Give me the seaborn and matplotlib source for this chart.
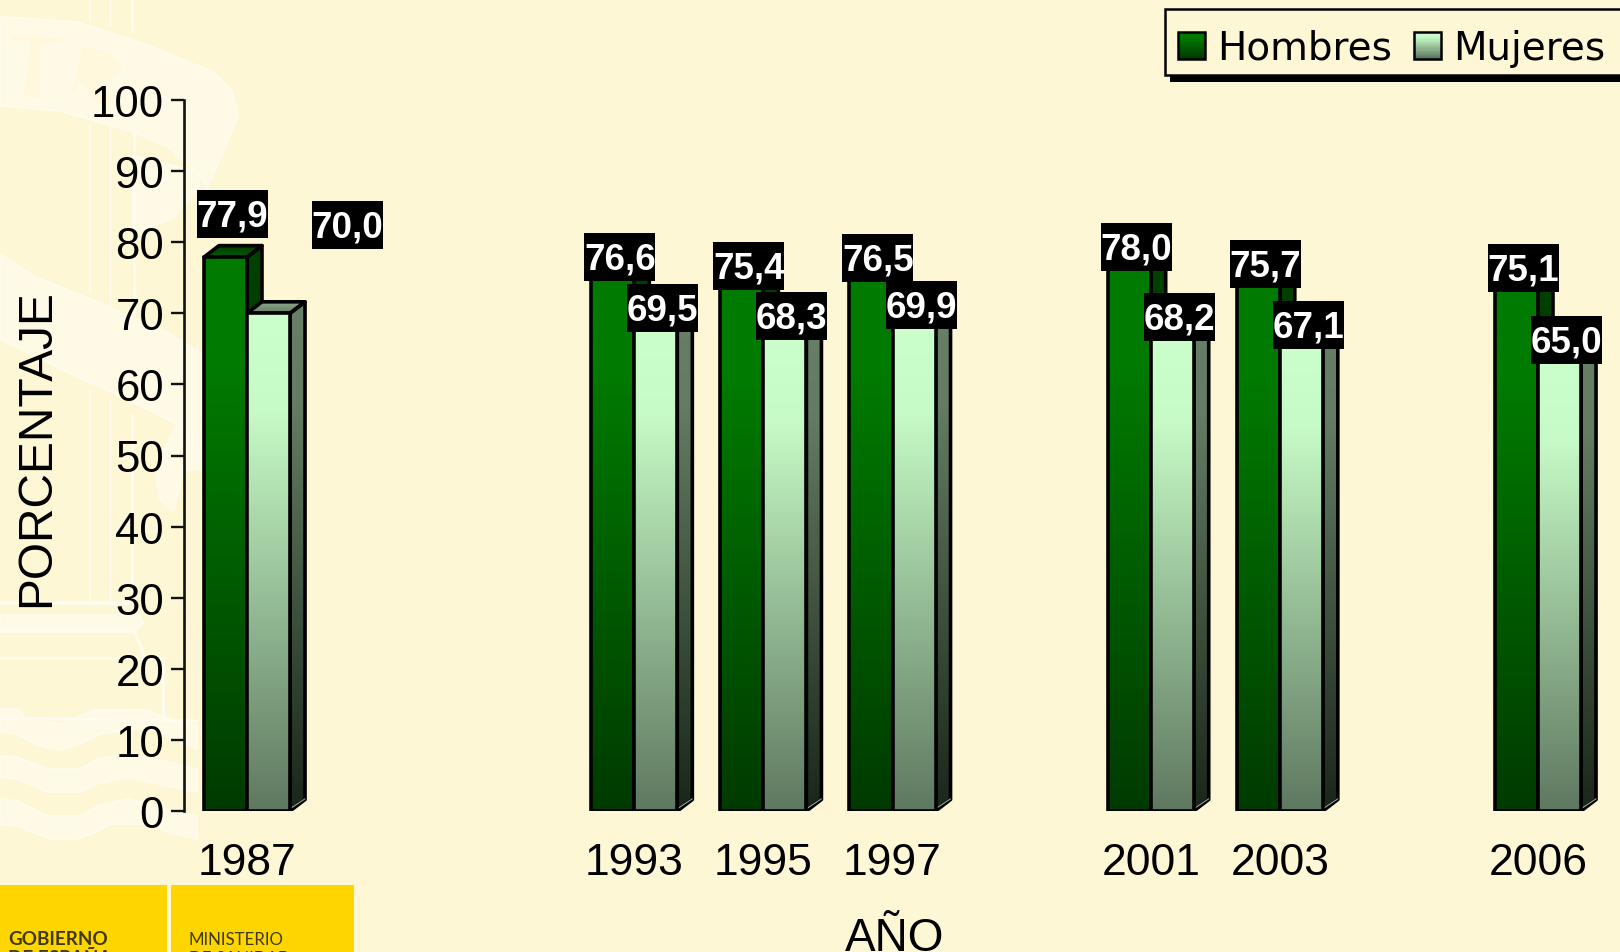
import numpy as np
import pandas as pd
import matplotlib
matplotlib.use("Agg")
import matplotlib.pyplot as plt
import seaborn as sns
from matplotlib.colors import LinearSegmentedColormap
from matplotlib.legend_handler import HandlerBase
from matplotlib.patches import Patch, Polygon, Rectangle
from matplotlib.path import Path

# ---- data ----
slots = ["1987", "1989", "1991", "1993", "1995", "1997", "1999", "2001", "2003", "2005", "2006"]
years = ["1987", "1993", "1995", "1997", "2001", "2003", "2006"]
hombres = [77.9, 76.6, 75.4, 76.5, 78.0, 75.7, 75.1]
mujeres = [70.0, 69.5, 68.3, 69.9, 68.2, 67.1, 65.0]
series_names = ["Hombres", "Mujeres"]
y_ticks = [0, 10, 20, 30, 40, 50, 60, 70, 80, 90, 100]

# ---- style ----
W, H = 1620, 953
BG = "#FEF7D6"
sns.set_theme(style="ticks", rc={"figure.facecolor": BG, "axes.facecolor": "none",
                                 "savefig.facecolor": BG})
plt.rcParams["font.family"] = ["Liberation Sans", "DejaVu Sans"]

front_cmaps = {
    "Hombres": LinearSegmentedColormap.from_list("h", [(0, "#007A00"), (0.2, "#007A00"), (1, "#003A00")]),
    "Mujeres": LinearSegmentedColormap.from_list("m", [(0, "#CBFFCB"), (0.2, "#C6FAC6"), (1, "#5F7860")]),
}
side_cmaps = {
    "Hombres": LinearSegmentedColormap.from_list("hs", ["#004200", "#001E00"]),
    "Mujeres": LinearSegmentedColormap.from_list("ms", [(0, "#667F66"), (0.2, "#637C63"), (1, "#1A261A")]),
}
top_cmaps = {
    "Hombres": LinearSegmentedColormap.from_list("ht", ["#003E00", "#005A00"]),
    "Mujeres": LinearSegmentedColormap.from_list("mt", ["#8FAB8F", "#667F66"]),
}
ramp = np.linspace(0, 1, 256).reshape(-1, 1)

fig = plt.figure(figsize=(W / 100, H / 100), dpi=100)

# ---- background decoration, in pixel coordinates ----
bg = fig.add_axes([0, 0, 1, 1], zorder=-1)
bg.set_xlim(0, W)
bg.set_ylim(H, 0)
bg.axis("off")
WM_FILL, WM_LINE = "#FFFAE6", "#FFFCEF"
shapes = [
    [(0, 18), (77, 23), (150, 47), (213, 73), (232, 92), (238, 117), (207, 190), (200, 177),
     (167, 147), (133, 133), (60, 112), (0, 107)],
    [(133, 157), (197, 173), (200, 187), (173, 220), (133, 233)],
    [(0, 255), (33, 277), (83, 297), (167, 333), (205, 357), (205, 447), (173, 423), (133, 403),
     (67, 373), (0, 340)],
    [(155, 470), (175, 428), (205, 445), (205, 470), (185, 470), (173, 512), (160, 500)],
    [(0, 616), (140, 616), (143, 624), (135, 632), (0, 632)],
    [(0, 710), (18, 710), (24, 718), (60, 725), (95, 711), (147, 711), (170, 720), (197, 726), (197, 750),
     (167, 737), (147, 728), (100, 735), (80, 745), (60, 751), (37, 746), (17, 735), (0, 733)],
    [(0, 757), (17, 758), (47, 770), (80, 770), (97, 760), (128, 755), (167, 763), (197, 770),
     (197, 793), (167, 787), (128, 778), (97, 785), (80, 793), (47, 793), (17, 780), (0, 778)],
    [(0, 800), (17, 802), (47, 817), (80, 817), (97, 807), (128, 800), (167, 810), (197, 817),
     (197, 840), (167, 833), (150, 825), (110, 825), (97, 833), (77, 840), (50, 840), (17, 827), (0, 825)],
]
for pts in shapes:
    bg.add_patch(Polygon(pts, closed=True, fc=WM_FILL, ec=WM_LINE, lw=1.2))
for pts in [[(10, 35), (63, 38), (62, 45), (42, 45), (40, 100), (23, 98), (30, 43), (12, 42)],
            [(82, 47), (112, 53), (124, 68), (112, 82), (98, 84), (118, 98), (100, 108), (80, 85), (68, 104)]]:
    bg.add_patch(Polygon(pts, closed=True, fc="#FFF8DC", ec=WM_LINE, lw=0.6))
for x, y0, y1, lw in [(90, 0, 23, 1.2), (110, 0, 27, 1.0), (132, 0, 33, 2.2),
                      (90, 125, 293, 1.2), (110, 128, 307, 1.0), (134, 133, 317, 2.2),
                      (90, 392, 603, 1.2), (110, 400, 603, 1.0), (132, 415, 603, 2.2),
                      (163, 659, 718, 2.2)]:
    bg.plot([x, x], [y0, y1], color=WM_LINE, lw=lw, solid_capstyle="butt")
for pts, lw in [([(0, 604), (132, 604)], 2.6), ([(0, 632), (135, 632)], 2.6), ([(135, 634), (146, 660)], 2.2),
                ([(0, 659), (163, 659)], 2.2), ([(0, 719), (197, 722)], 2.2)]:
    bg.plot(*zip(*pts), color=WM_LINE, lw=lw)

bg.add_patch(Rectangle((0, 886), 167, 70, fc="#FFD500", ec="none"))
bg.add_patch(Rectangle((171, 886), 183, 70, fc="#FFD500", ec="none"))
logo_color = "#3F3A05"
bg.text(8.5, 945, "GOBIERNO", family="Lato", weight="bold", fontsize=13.6, color=logo_color, va="baseline")
bg.text(8.5, 964, "DE ESPAÑA", family="Lato", weight="bold", fontsize=13.6, color=logo_color, va="baseline")
bg.text(189, 945, "MINISTERIO", family="Lato", fontsize=12.2, color=logo_color, va="baseline")
bg.text(189, 964, "DE SANIDAD", family="Lato", fontsize=12.2, color=logo_color, va="baseline")

# ---- bars ----
AX_L, AX_R, AX_T, AX_B = 184, W, 101, 812
ax = fig.add_axes([AX_L / W, 1 - AX_B / H, (AX_R - AX_L) / W, (AX_B - AX_T) / H])

df = pd.DataFrame({
    "Año": years * 2,
    "Porcentaje": hombres + mujeres,
    "Sexo": [series_names[0]] * len(years) + [series_names[1]] * len(years),
})
sns.barplot(data=df, x="Año", y="Porcentaje", hue="Sexo", order=slots, hue_order=series_names,
            palette=["#007A00", "#CBFFCB"], saturation=1, width=2 / 3, gap=0, dodge=True,
            edgecolor="black", linewidth=2.6, legend=False, ax=ax)

SLOT_PX = 129.1
xlim = (-(247 - AX_L) / SLOT_PX, (AX_R - 247) / SLOT_PX)
ylim = (0, 100)
DEPTH_X = 15 / SLOT_PX
DEPTH_Y = 11.5 * 100 / (AX_B - AX_T)


def gradient_poly(pts, cmap, z, edge=True):
    poly = Polygon(pts, closed=True, fc="none", ec="black" if edge else "none", lw=2.6,
                   joinstyle="round", zorder=z + 0.1)
    ax.add_patch(poly)
    xs, ys = zip(*pts)
    im = ax.imshow(ramp, cmap=cmap, origin="upper", aspect="auto", vmin=0, vmax=1,
                   extent=[min(xs), max(xs), min(ys), max(ys)], zorder=z, interpolation="bilinear")
    im.set_clip_path(poly)


def label_box(x0, y0, width, height, mutation_size):
    cx, cy = x0 + width / 2, y0 + height / 2 + 2
    hw, hh = 35.5, 24
    return Path([(cx - hw, cy - hh), (cx + hw, cy - hh), (cx + hw, cy + hh), (cx - hw, cy + hh),
                 (cx - hw, cy - hh)], closed=True)


label_offsets = {(series_names[0], "1987"): (7, 41.5), (series_names[1], "1987"): (79, 86.5)}

for s, (name, container) in enumerate(zip(series_names, ax.containers)):
    base_z = 2 + 2 * s
    for bar in container:
        h = bar.get_height()
        if not np.isfinite(h) or h <= 0:
            continue
        x0, x1 = bar.get_x(), bar.get_x() + bar.get_width()
        year = slots[int(round((x0 + x1) / 2 + (0.5 - s) * bar.get_width()))]
        gradient_poly([(x1, 0), (x1 + DEPTH_X, DEPTH_Y), (x1 + DEPTH_X, h + DEPTH_Y), (x1, h)],
                      side_cmaps[name], base_z)
        gradient_poly([(x0, h), (x1, h), (x1 + DEPTH_X, h + DEPTH_Y), (x0 + DEPTH_X, h + DEPTH_Y)],
                      top_cmaps[name], base_z)
        ax.plot([x1, x1 + DEPTH_X], [0.3, DEPTH_Y + 0.1], color="#A9B8A0", lw=0.7, zorder=base_z + 0.2)
        gradient_poly([(x0, 0), (x1, 0), (x1, h), (x0, h)], front_cmaps[name], base_z + 0.5)
        bar.set_visible(False)
        ox, oy = label_offsets.get((name, year), (7, 7))
        ax.annotate(f"{h:.1f}".replace(".", ","), xy=((x0 + x1) / 2, h), xytext=(ox, oy),
                    textcoords="offset pixels", ha="center", va="center", color="white",
                    fontsize=26.5, fontweight="bold", zorder=20, annotation_clip=False,
                    bbox=dict(boxstyle=label_box, fc="black", ec="none"))

# ---- axes ----
ax.set_xlim(*xlim)
ax.set_ylim(*ylim)
ax.set_xticks(range(len(slots)))
ax.set_xticklabels([y if y in years else "" for y in slots], fontsize=32, color="black")
ax.set_yticks(y_ticks)
ax.set_yticklabels([str(v) for v in y_ticks], fontsize=31.5, color="black")
ax.tick_params(axis="x", length=0, pad=22.5)
ax.tick_params(axis="y", length=9.4, width=1.7, pad=5, color="#111111")
sns.despine(ax=ax, bottom=True)
ax.spines["left"].set_linewidth(1.9)
ax.spines["left"].set_color("#111111")
ax.spines["left"].set_bounds(0, 100)

ax.set_ylabel("PORCENTAJE", fontsize=34.5, color="black", va="baseline", ha="center", rotation=90)
ax.yaxis.set_label_coords((49 - AX_L) / (AX_R - AX_L), (AX_B - 448) / (AX_B - AX_T))
ax.set_xlabel("AÑO", fontsize=33, color="black", va="baseline", ha="center")
ax.xaxis.set_label_coords((895 - AX_L) / (AX_R - AX_L), (AX_B - 951) / (AX_B - AX_T))


# ---- legend ----
class GradientHandle(HandlerBase):
    def __init__(self, cmap):
        super().__init__()
        self.cmap = cmap

    def create_artists(self, legend, orig, xd, yd, width, height, fontsize, trans):
        n = 24
        side = 27 * 0.72 * 1.0
        arts = []
        y_bot = -yd + (height - side) / 2
        for i in range(n):
            arts.append(Rectangle((-xd, y_bot + side * (n - 1 - i) / n), width, side / n + 0.2,
                                  fc=self.cmap(i / (n - 1)), ec="none", transform=trans))
        arts.append(Rectangle((-xd, y_bot), width, side, fc="none", ec="black", lw=1.8, transform=trans))
        return arts


bg.add_patch(Rectangle((1170, 16), 480, 67, fc="black", ec="none", zorder=5))
bg.add_patch(Rectangle((1165, 10), 480, 66, fc=BG, ec="black", lw=1.8, zorder=6))

LEG_FS = 28
px_em = LEG_FS / 0.72
handles = [Patch(label=series_names[0]), Patch(label=series_names[1])]
leg = fig.legend(handles=handles, loc="center left", bbox_to_anchor=(1178 / W, 1 - 49 / H),
                 bbox_transform=fig.transFigure, ncols=2, frameon=False, borderpad=0, borderaxespad=0,
                 handlelength=27 / px_em, handletextpad=12 / px_em, columnspacing=22 / px_em,
                 prop={"family": "DejaVu Sans", "size": LEG_FS},
                 handler_map={handles[0]: GradientHandle(front_cmaps["Hombres"]),
                              handles[1]: GradientHandle(front_cmaps["Mujeres"])})
for t in leg.get_texts():
    t.set_color("black")

fig.savefig("out.png", dpi=100)
